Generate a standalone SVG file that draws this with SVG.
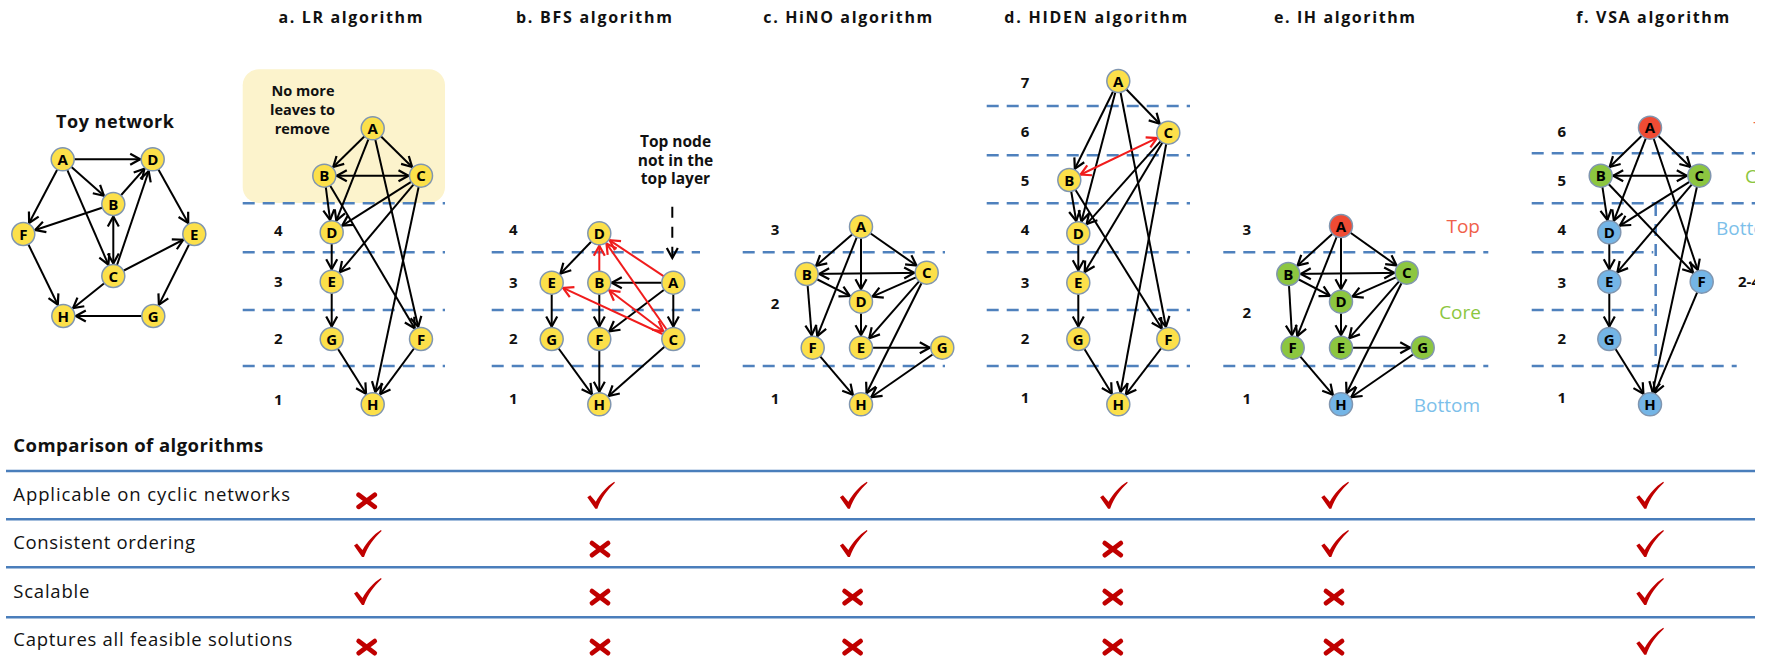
<svg xmlns="http://www.w3.org/2000/svg" width="1768" height="663" viewBox="0 0 1768 663">
<defs>
  <marker id="ah" markerUnits="userSpaceOnUse" markerWidth="40" markerHeight="20" viewBox="-25 -10 40 20" refX="12.5" refY="0" orient="auto-start-reverse">
    <path d="M-10,-5.5 L0,0 L-10,5.5" fill="none" stroke="#000" stroke-width="2.2"/>
  </marker>
  <marker id="ahr" markerUnits="userSpaceOnUse" markerWidth="40" markerHeight="20" viewBox="-25 -10 40 20" refX="12.5" refY="0" orient="auto-start-reverse">
    <path d="M-10,-5.5 L0,0 L-10,5.5" fill="none" stroke="#f01c1c" stroke-width="2.2"/>
  </marker>
  <marker id="ahd" markerUnits="userSpaceOnUse" markerWidth="40" markerHeight="20" viewBox="-25 -10 40 20" refX="0" refY="0" orient="auto">
    <path d="M-10,-5.5 L0,0 L-10,5.5" fill="none" stroke="#000" stroke-width="2.2"/>
  </marker>
  <clipPath id="clip"><rect x="0" y="0" width="1755" height="663"/></clipPath>
  <path id="chk" d="M0,15.5 L3,13.5 L8.5,20 C13,12 19,5 27,0 L27.6,1 C20,8 14,16 10,27 L8,27 Z"/>
</defs>
<style>
  .t { font-family: "Open Sans", "Liberation Sans", sans-serif; font-weight: bold; font-size: 16px; text-anchor: middle; fill: #111; }
  .note { font-family: "Open Sans", "Liberation Sans", sans-serif; font-weight: bold; font-size: 14px; text-anchor: middle; fill: #111; }
  .lab { font-family: "Open Sans", "Liberation Sans", sans-serif; font-weight: bold; font-size: 15px; text-anchor: middle; fill: #111; }
  .n circle { stroke: #8096b0; stroke-width: 1.5; }
  .n text { font-family: "Open Sans", "Liberation Sans", sans-serif; font-weight: bold; font-size: 15px; text-anchor: middle; fill: #000; }
  .y { fill: #fce04a; }
  .r { fill: #ef4b34; }
  .g { fill: #8cc640; }
  .b { fill: #74b5e6; }
  .e { stroke: #000; stroke-width: 2; fill: none; marker-end: url(#ah); }
  .bi { marker-start: url(#ah); }
  .er { stroke: #f01c1c; stroke-width: 2; fill: none; marker-end: url(#ahr); }
  .bir { marker-start: url(#ahr); }
  .dl { stroke: #4f81bd; stroke-width: 2.5; stroke-dasharray: 12 8; fill: none; }
  .row { stroke: #4a7ebb; stroke-width: 2.5; }
  .tx { font-family: "Open Sans", "Liberation Sans", sans-serif; font-size: 18.5px; fill: #111; }
  .tb { font-family: "Open Sans", "Liberation Sans", sans-serif; font-size: 18.5px; font-weight: bold; fill: #111; }
  .ck { fill: #c00000; }
  .x { stroke: #c00000; stroke-width: 4.8; stroke-linecap: round; fill: none; }
  .ct { font-family: "Open Sans", "Liberation Sans", sans-serif; font-size: 19px; }
</style>
<g clip-path="url(#clip)">
<rect x="0" y="0" width="1768" height="663" fill="#fff"/>

<g id="titles">
  <text class="t" x="115" y="128.3" style="font-size:18px" textLength="118">Toy network</text>
  <text class="t" x="350.5" y="22.7" textLength="144">a. LR algorithm</text>
  <text class="t" x="594" y="22.7" textLength="156">b. BFS algorithm</text>
  <text class="t" x="847.8" y="22.7" textLength="169">c. HiNO algorithm</text>
  <text class="t" x="1095.8" y="22.7" textLength="183">d. HIDEN algorithm</text>
  <text class="t" x="1344.5" y="22.7" textLength="141">e. IH algorithm</text>
  <text class="t" x="1652.7" y="22.7" textLength="153">f. VSA algorithm</text>
</g>

<rect id="lr-box" x="242.7" y="69.3" width="202.3" height="133.7" rx="16" fill="#fcf3cc"/>
<g id="lr-note">
  <text class="note" x="303" y="96" style="font-size:14.5px">No more</text>
  <text class="note" x="302.5" y="115" style="font-size:14.5px">leaves to</text>
  <text class="note" x="302.3" y="134.3" style="font-size:14.5px">remove</text>
</g>
<g id="bfs-note">
  <text class="note" x="675.5" y="146.7" style="font-size:15.5px">Top node</text>
  <text class="note" x="675.5" y="165.7" style="font-size:15.5px">not in the</text>
  <text class="note" x="675.5" y="184.3" style="font-size:15.5px">top layer</text>
</g>

<g id="layers">
  <line class="dl" x1="242.7" y1="203.3" x2="445" y2="203.3"/>
  <line class="dl" x1="242.7" y1="252.3" x2="445" y2="252.3"/>
  <line class="dl" x1="242.7" y1="310" x2="445" y2="310"/>
  <line class="dl" x1="242.7" y1="366" x2="445" y2="366"/>

  <line class="dl" x1="491.7" y1="252.3" x2="700" y2="252.3"/>
  <line class="dl" x1="491.7" y1="310" x2="700" y2="310"/>
  <line class="dl" x1="491.7" y1="366" x2="700" y2="366"/>

  <line class="dl" x1="742.7" y1="252.3" x2="945" y2="252.3"/>
  <line class="dl" x1="742.7" y1="366" x2="945" y2="366"/>

  <line class="dl" x1="986.7" y1="106" x2="1190" y2="106"/>
  <line class="dl" x1="986.7" y1="155.3" x2="1190" y2="155.3"/>
  <line class="dl" x1="986.7" y1="203.3" x2="1190" y2="203.3"/>
  <line class="dl" x1="986.7" y1="252.3" x2="1190" y2="252.3"/>
  <line class="dl" x1="986.7" y1="310" x2="1190" y2="310"/>
  <line class="dl" x1="986.7" y1="366" x2="1190" y2="366"/>

  <line class="dl" x1="1223.3" y1="252.3" x2="1488.3" y2="252.3"/>
  <line class="dl" x1="1223.3" y1="366" x2="1488.3" y2="366"/>

  <line class="dl" x1="1531.7" y1="153.3" x2="1768" y2="153.3"/>
  <line class="dl" x1="1531.7" y1="203.3" x2="1768" y2="203.3"/>
  <line class="dl" x1="1531.7" y1="252.3" x2="1653.3" y2="252.3"/>
  <line class="dl" x1="1531.7" y1="310" x2="1653.3" y2="310"/>
  <line class="dl" x1="1531.7" y1="366" x2="1736.7" y2="366"/>
  <line class="dl" x1="1655.7" y1="204" x2="1655.7" y2="366"/>
</g>

<g id="layer-numbers">
  <text class="lab" x="278.3" y="236.3">4</text>
  <text class="lab" x="278.3" y="287">3</text>
  <text class="lab" x="278.3" y="344.3">2</text>
  <text class="lab" x="278.3" y="405">1</text>

  <text class="lab" x="513.3" y="235.3">4</text>
  <text class="lab" x="513.3" y="288">3</text>
  <text class="lab" x="513.3" y="344.3">2</text>
  <text class="lab" x="513.3" y="404.3">1</text>

  <text class="lab" x="775" y="235.3">3</text>
  <text class="lab" x="775" y="309">2</text>
  <text class="lab" x="775" y="403.6">1</text>

  <text class="lab" x="1025" y="88.3">7</text>
  <text class="lab" x="1025" y="137.3">6</text>
  <text class="lab" x="1025" y="186.3">5</text>
  <text class="lab" x="1025" y="235.3">4</text>
  <text class="lab" x="1025" y="288.3">3</text>
  <text class="lab" x="1025" y="344.3">2</text>
  <text class="lab" x="1025" y="403.3">1</text>

  <text class="lab" x="1246.7" y="235.3">3</text>
  <text class="lab" x="1246.7" y="318.3">2</text>
  <text class="lab" x="1246.7" y="404.3">1</text>

  <text class="lab" x="1561.7" y="137.3">6</text>
  <text class="lab" x="1561.7" y="186.3">5</text>
  <text class="lab" x="1561.7" y="235.3">4</text>
  <text class="lab" x="1561.7" y="288.3">3</text>
  <text class="lab" x="1561.7" y="344.3">2</text>
  <text class="lab" x="1561.7" y="403.3">1</text>
  <text class="lab" x="1738" y="287" style="text-anchor:start">2-4</text>
</g>

<g id="class-labels">
  <text class="ct" x="1480" y="233.3" fill="#f0604a" text-anchor="end">Top</text>
  <text class="ct" x="1481" y="318.5" fill="#8cc63f" text-anchor="end">Core</text>
  <text class="ct" x="1480" y="411.7" fill="#7cbfea" text-anchor="end">Bottom</text>
  <text class="ct" x="1753.5" y="134.5" fill="#f0604a">Top</text>
  <text class="ct" x="1745" y="183.3" fill="#8cc63f">Core</text>
  <text class="ct" x="1716" y="235" fill="#7cbfea">Bottom</text>
</g>

<g id="connectors">
  <g id="toy-edges">
    <line class="e" x1="62.7" y1="159.3" x2="152.7" y2="159.3"/>
    <line class="e" x1="62.7" y1="159.3" x2="113.3" y2="204"/>
    <line class="e" x1="62.7" y1="159.3" x2="23.3" y2="234"/>
    <line class="e" x1="62.7" y1="159.3" x2="113.3" y2="276"/>
    <line class="e" x1="113.3" y1="204" x2="152.7" y2="159.3"/>
    <line class="e" x1="113.3" y1="204" x2="23.3" y2="234"/>
    <line class="e bi" x1="113.3" y1="204" x2="113.3" y2="276"/>
    <line class="e" x1="113.3" y1="276" x2="152.7" y2="159.3"/>
    <line class="e" x1="113.3" y1="276" x2="194.3" y2="234"/>
    <line class="e" x1="113.3" y1="276" x2="63.3" y2="316"/>
    <line class="e" x1="152.7" y1="159.3" x2="194.3" y2="234"/>
    <line class="e" x1="194.3" y1="234" x2="153.3" y2="316"/>
    <line class="e" x1="153.3" y1="316" x2="63.3" y2="316"/>
    <line class="e" x1="23.3" y1="234" x2="63.3" y2="316"/>
  </g>
  <g id="lr-edges">
    <line class="e" x1="372.7" y1="128.3" x2="324.3" y2="175.7"/>
    <line class="e" x1="372.7" y1="128.3" x2="421" y2="175.7"/>
    <line class="e" x1="372.7" y1="128.3" x2="331.7" y2="232.3"/>
    <line class="e" x1="372.7" y1="128.3" x2="421" y2="339"/>
    <line class="e bi" x1="324.3" y1="175.7" x2="421" y2="175.7"/>
    <line class="e" x1="324.3" y1="175.7" x2="331.7" y2="232.3"/>
    <line class="e" x1="324.3" y1="175.7" x2="421" y2="339"/>
    <line class="e" x1="421" y1="175.7" x2="331.7" y2="232.3"/>
    <line class="e" x1="421" y1="175.7" x2="331.7" y2="281.7"/>
    <line class="e" x1="421" y1="175.7" x2="372.7" y2="404.3"/>
    <line class="e" x1="331.7" y1="232.3" x2="331.7" y2="281.7"/>
    <line class="e" x1="331.7" y1="281.7" x2="331.7" y2="339"/>
    <line class="e" x1="331.7" y1="339" x2="372.7" y2="404.3"/>
    <line class="e" x1="421" y1="339" x2="372.7" y2="404.3"/>
  </g>
  <g id="bfs-edges">
    <line class="e" x1="599.3" y1="233.3" x2="551.7" y2="282.7"/>
    <line class="e" x1="673.3" y1="282.7" x2="599.3" y2="282.7"/>
    <line class="e" x1="673.3" y1="282.7" x2="599.3" y2="339"/>
    <line class="e" x1="673.3" y1="282.7" x2="673.3" y2="339"/>
    <line class="e" x1="551.7" y1="282.7" x2="551.7" y2="339"/>
    <line class="e" x1="599.3" y1="282.7" x2="599.3" y2="339"/>
    <line class="e" x1="551.7" y1="339" x2="599.3" y2="404.3"/>
    <line class="e" x1="599.3" y1="339" x2="599.3" y2="404.3"/>
    <line class="e" x1="673.3" y1="339" x2="599.3" y2="404.3"/>
    <line class="er" x1="599.3" y1="282.7" x2="599.3" y2="233.3"/>
    <line class="er" x1="673.3" y1="282.7" x2="599.3" y2="233.3"/>
    <line class="er" x1="673.3" y1="339" x2="599.3" y2="233.3"/>
    <line class="er" x1="673.3" y1="339" x2="551.7" y2="282.7"/>
    <line class="er bir" x1="599.3" y1="282.7" x2="673.3" y2="339"/>
    <line stroke="#000" stroke-width="2" stroke-dasharray="11 9" marker-end="url(#ahd)" x1="672.3" y1="206.7" x2="672.3" y2="258"/>
  </g>
  <g id="hino-edges">
    <line class="e" x1="861" y1="226.7" x2="806.7" y2="274"/>
    <line class="e" x1="861" y1="226.7" x2="926.7" y2="272.7"/>
    <line class="e" x1="861" y1="226.7" x2="861" y2="301.7"/>
    <line class="e" x1="861" y1="226.7" x2="812.7" y2="347.7"/>
    <line class="e bi" x1="806.7" y1="274" x2="926.7" y2="272.7"/>
    <line class="e" x1="806.7" y1="274" x2="861" y2="301.7"/>
    <line class="e" x1="806.7" y1="274" x2="812.7" y2="347.7"/>
    <line class="e" x1="926.7" y1="272.7" x2="861" y2="301.7"/>
    <line class="e" x1="926.7" y1="272.7" x2="861" y2="347.7"/>
    <line class="e" x1="926.7" y1="272.7" x2="861" y2="404.3"/>
    <line class="e" x1="861" y1="301.7" x2="861" y2="347.7"/>
    <line class="e" x1="861" y1="347.7" x2="942.3" y2="347.7"/>
    <line class="e" x1="812.7" y1="347.7" x2="861" y2="404.3"/>
    <line class="e" x1="942.3" y1="347.7" x2="861" y2="404.3"/>
  </g>
  <g id="hiden-edges">
    <line class="e" x1="1118.3" y1="81" x2="1168.3" y2="132.7"/>
    <line class="e" x1="1118.3" y1="81" x2="1069.3" y2="180"/>
    <line class="e" x1="1118.3" y1="81" x2="1078.3" y2="233.3"/>
    <line class="e" x1="1118.3" y1="81" x2="1168.3" y2="339"/>
    <line class="er bir" x1="1069.3" y1="180" x2="1168.3" y2="132.7"/>
    <line class="e" x1="1069.3" y1="180" x2="1078.3" y2="233.3"/>
    <line class="e" x1="1069.3" y1="180" x2="1168.3" y2="339"/>
    <line class="e" x1="1168.3" y1="132.7" x2="1078.3" y2="233.3"/>
    <line class="e" x1="1168.3" y1="132.7" x2="1078.3" y2="282.7"/>
    <line class="e" x1="1168.3" y1="132.7" x2="1118.3" y2="404.3"/>
    <line class="e" x1="1078.3" y1="233.3" x2="1078.3" y2="282.7"/>
    <line class="e" x1="1078.3" y1="282.7" x2="1078.3" y2="339"/>
    <line class="e" x1="1078.3" y1="339" x2="1118.3" y2="404.3"/>
    <line class="e" x1="1168.3" y1="339" x2="1118.3" y2="404.3"/>
  </g>
  <g id="ih-edges">
    <line class="e" x1="1341" y1="226" x2="1288.3" y2="274"/>
    <line class="e" x1="1341" y1="226" x2="1406.7" y2="272.7"/>
    <line class="e" x1="1341" y1="226" x2="1341" y2="301.7"/>
    <line class="e" x1="1341" y1="226" x2="1292.7" y2="347.7"/>
    <line class="e bi" x1="1288.3" y1="274" x2="1406.7" y2="272.7"/>
    <line class="e" x1="1288.3" y1="274" x2="1341" y2="301.7"/>
    <line class="e" x1="1288.3" y1="274" x2="1292.7" y2="347.7"/>
    <line class="e" x1="1406.7" y1="272.7" x2="1341" y2="301.7"/>
    <line class="e" x1="1406.7" y1="272.7" x2="1341" y2="347.7"/>
    <line class="e" x1="1406.7" y1="272.7" x2="1341" y2="404.3"/>
    <line class="e" x1="1341" y1="301.7" x2="1341" y2="347.7"/>
    <line class="e" x1="1341" y1="347.7" x2="1422.7" y2="347.7"/>
    <line class="e" x1="1292.7" y1="347.7" x2="1341" y2="404.3"/>
    <line class="e" x1="1422.7" y1="347.7" x2="1341" y2="404.3"/>
  </g>
  <g id="vsa-edges">
    <line class="e" x1="1650" y1="127.7" x2="1600.7" y2="175.7"/>
    <line class="e" x1="1650" y1="127.7" x2="1699.3" y2="175.7"/>
    <line class="e" x1="1650" y1="127.7" x2="1609.3" y2="232.3"/>
    <line class="e" x1="1650" y1="127.7" x2="1701.7" y2="281.7"/>
    <line class="e bi" x1="1600.7" y1="175.7" x2="1699.3" y2="175.7"/>
    <line class="e" x1="1600.7" y1="175.7" x2="1609.3" y2="232.3"/>
    <line class="e" x1="1600.7" y1="175.7" x2="1701.7" y2="281.7"/>
    <line class="e" x1="1699.3" y1="175.7" x2="1609.3" y2="232.3"/>
    <line class="e" x1="1699.3" y1="175.7" x2="1609.3" y2="281.7"/>
    <line class="e" x1="1699.3" y1="175.7" x2="1650" y2="404.3"/>
    <line class="e" x1="1609.3" y1="232.3" x2="1609.3" y2="281.7"/>
    <line class="e" x1="1609.3" y1="281.7" x2="1609.3" y2="339"/>
    <line class="e" x1="1609.3" y1="339" x2="1650" y2="404.3"/>
    <line class="e" x1="1701.7" y1="281.7" x2="1650" y2="404.3"/>
  </g>
</g>

<g id="nodes">
  <g id="toy-A" class="n"><circle class="y" cx="62.7" cy="159.3" r="11.5"/><text x="62.7" y="164.8">A</text></g>
  <g id="toy-B" class="n"><circle class="y" cx="113.3" cy="204" r="11.5"/><text x="113.3" y="209.5">B</text></g>
  <g id="toy-C" class="n"><circle class="y" cx="113.3" cy="276" r="11.5"/><text x="113.3" y="281.5">C</text></g>
  <g id="toy-D" class="n"><circle class="y" cx="152.7" cy="159.3" r="11.5"/><text x="152.7" y="164.8">D</text></g>
  <g id="toy-E" class="n"><circle class="y" cx="194.3" cy="234" r="11.5"/><text x="194.3" y="239.5">E</text></g>
  <g id="toy-F" class="n"><circle class="y" cx="23.3" cy="234" r="11.5"/><text x="23.3" y="239.5">F</text></g>
  <g id="toy-G" class="n"><circle class="y" cx="153.3" cy="316" r="11.5"/><text x="153.3" y="321.5">G</text></g>
  <g id="toy-H" class="n"><circle class="y" cx="63.3" cy="316" r="11.5"/><text x="63.3" y="321.5">H</text></g>

  <g id="lr-A" class="n"><circle class="y" cx="372.7" cy="128.3" r="11.5"/><text x="372.7" y="133.8">A</text></g>
  <g id="lr-B" class="n"><circle class="y" cx="324.3" cy="175.7" r="11.5"/><text x="324.3" y="181.2">B</text></g>
  <g id="lr-C" class="n"><circle class="y" cx="421" cy="175.7" r="11.5"/><text x="421" y="181.2">C</text></g>
  <g id="lr-D" class="n"><circle class="y" cx="331.7" cy="232.3" r="11.5"/><text x="331.7" y="237.8">D</text></g>
  <g id="lr-E" class="n"><circle class="y" cx="331.7" cy="281.7" r="11.5"/><text x="331.7" y="287.2">E</text></g>
  <g id="lr-G" class="n"><circle class="y" cx="331.7" cy="339" r="11.5"/><text x="331.7" y="344.5">G</text></g>
  <g id="lr-F" class="n"><circle class="y" cx="421" cy="339" r="11.5"/><text x="421" y="344.5">F</text></g>
  <g id="lr-H" class="n"><circle class="y" cx="372.7" cy="404.3" r="11.5"/><text x="372.7" y="409.8">H</text></g>

  <g id="bfs-D" class="n"><circle class="y" cx="599.3" cy="233.3" r="11.5"/><text x="599.3" y="238.8">D</text></g>
  <g id="bfs-E" class="n"><circle class="y" cx="551.7" cy="282.7" r="11.5"/><text x="551.7" y="288.2">E</text></g>
  <g id="bfs-B" class="n"><circle class="y" cx="599.3" cy="282.7" r="11.5"/><text x="599.3" y="288.2">B</text></g>
  <g id="bfs-A" class="n"><circle class="y" cx="673.3" cy="282.7" r="11.5"/><text x="673.3" y="288.2">A</text></g>
  <g id="bfs-G" class="n"><circle class="y" cx="551.7" cy="339" r="11.5"/><text x="551.7" y="344.5">G</text></g>
  <g id="bfs-F" class="n"><circle class="y" cx="599.3" cy="339" r="11.5"/><text x="599.3" y="344.5">F</text></g>
  <g id="bfs-C" class="n"><circle class="y" cx="673.3" cy="339" r="11.5"/><text x="673.3" y="344.5">C</text></g>
  <g id="bfs-H" class="n"><circle class="y" cx="599.3" cy="404.3" r="11.5"/><text x="599.3" y="409.8">H</text></g>

  <g id="hino-A" class="n"><circle class="y" cx="861" cy="226.7" r="11.5"/><text x="861" y="232.2">A</text></g>
  <g id="hino-B" class="n"><circle class="y" cx="806.7" cy="274" r="11.5"/><text x="806.7" y="279.5">B</text></g>
  <g id="hino-C" class="n"><circle class="y" cx="926.7" cy="272.7" r="11.5"/><text x="926.7" y="278.2">C</text></g>
  <g id="hino-D" class="n"><circle class="y" cx="861" cy="301.7" r="11.5"/><text x="861" y="307.2">D</text></g>
  <g id="hino-F" class="n"><circle class="y" cx="812.7" cy="347.7" r="11.5"/><text x="812.7" y="353.2">F</text></g>
  <g id="hino-E" class="n"><circle class="y" cx="861" cy="347.7" r="11.5"/><text x="861" y="353.2">E</text></g>
  <g id="hino-G" class="n"><circle class="y" cx="942.3" cy="347.7" r="11.5"/><text x="942.3" y="353.2">G</text></g>
  <g id="hino-H" class="n"><circle class="y" cx="861" cy="404.3" r="11.5"/><text x="861" y="409.8">H</text></g>

  <g id="hiden-A" class="n"><circle class="y" cx="1118.3" cy="81" r="11.5"/><text x="1118.3" y="86.5">A</text></g>
  <g id="hiden-C" class="n"><circle class="y" cx="1168.3" cy="132.7" r="11.5"/><text x="1168.3" y="138.2">C</text></g>
  <g id="hiden-B" class="n"><circle class="y" cx="1069.3" cy="180" r="11.5"/><text x="1069.3" y="185.5">B</text></g>
  <g id="hiden-D" class="n"><circle class="y" cx="1078.3" cy="233.3" r="11.5"/><text x="1078.3" y="238.8">D</text></g>
  <g id="hiden-E" class="n"><circle class="y" cx="1078.3" cy="282.7" r="11.5"/><text x="1078.3" y="288.2">E</text></g>
  <g id="hiden-G" class="n"><circle class="y" cx="1078.3" cy="339" r="11.5"/><text x="1078.3" y="344.5">G</text></g>
  <g id="hiden-F" class="n"><circle class="y" cx="1168.3" cy="339" r="11.5"/><text x="1168.3" y="344.5">F</text></g>
  <g id="hiden-H" class="n"><circle class="y" cx="1118.3" cy="404.3" r="11.5"/><text x="1118.3" y="409.8">H</text></g>

  <g id="ih-A" class="n"><circle class="r" cx="1341" cy="226" r="11.5"/><text x="1341" y="231.5">A</text></g>
  <g id="ih-B" class="n"><circle class="g" cx="1288.3" cy="274" r="11.5"/><text x="1288.3" y="279.5">B</text></g>
  <g id="ih-C" class="n"><circle class="g" cx="1406.7" cy="272.7" r="11.5"/><text x="1406.7" y="278.2">C</text></g>
  <g id="ih-D" class="n"><circle class="g" cx="1341" cy="301.7" r="11.5"/><text x="1341" y="307.2">D</text></g>
  <g id="ih-F" class="n"><circle class="g" cx="1292.7" cy="347.7" r="11.5"/><text x="1292.7" y="353.2">F</text></g>
  <g id="ih-E" class="n"><circle class="g" cx="1341" cy="347.7" r="11.5"/><text x="1341" y="353.2">E</text></g>
  <g id="ih-G" class="n"><circle class="g" cx="1422.7" cy="347.7" r="11.5"/><text x="1422.7" y="353.2">G</text></g>
  <g id="ih-H" class="n"><circle class="b" cx="1341" cy="404.3" r="11.5"/><text x="1341" y="409.8">H</text></g>

  <g id="vsa-A" class="n"><circle class="r" cx="1650" cy="127.7" r="11.5"/><text x="1650" y="133.2">A</text></g>
  <g id="vsa-B" class="n"><circle class="g" cx="1600.7" cy="175.7" r="11.5"/><text x="1600.7" y="181.2">B</text></g>
  <g id="vsa-C" class="n"><circle class="g" cx="1699.3" cy="175.7" r="11.5"/><text x="1699.3" y="181.2">C</text></g>
  <g id="vsa-D" class="n"><circle class="b" cx="1609.3" cy="232.3" r="11.5"/><text x="1609.3" y="237.8">D</text></g>
  <g id="vsa-E" class="n"><circle class="b" cx="1609.3" cy="281.7" r="11.5"/><text x="1609.3" y="287.2">E</text></g>
  <g id="vsa-G" class="n"><circle class="b" cx="1609.3" cy="339" r="11.5"/><text x="1609.3" y="344.5">G</text></g>
  <g id="vsa-F" class="n"><circle class="b" cx="1701.7" cy="281.7" r="11.5"/><text x="1701.7" y="287.2">F</text></g>
  <g id="vsa-H" class="n"><circle class="b" cx="1650" cy="404.3" r="11.5"/><text x="1650" y="409.8">H</text></g>
</g>

<g id="table">
  <text class="tb" x="13.3" y="451.7" textLength="250">Comparison of algorithms</text>
  <line class="row" x1="6" y1="471" x2="1755" y2="471"/>
  <line class="row" x1="6" y1="519.3" x2="1755" y2="519.3"/>
  <line class="row" x1="6" y1="567.3" x2="1755" y2="567.3"/>
  <line class="row" x1="6" y1="617.3" x2="1755" y2="617.3"/>
  <text class="tx" x="13.3" y="500.7" textLength="276.7">Applicable on cyclic networks</text>
  <text class="tx" x="13.3" y="549" textLength="181.7">Consistent ordering</text>
  <text class="tx" x="13.3" y="597.7" textLength="76">Scalable</text>
  <text class="tx" x="13.3" y="646" textLength="279">Captures all feasible solutions</text>

  <path class="x" d="M358.7,494.8 L374.7,506.8 M374.7,494.8 L358.7,506.8"/>
  <use href="#chk" class="ck" x="587.3" y="481.7"/>
  <use href="#chk" class="ck" x="839.9" y="481.7"/>
  <use href="#chk" class="ck" x="1100.1" y="481.7"/>
  <use href="#chk" class="ck" x="1321.3" y="481.7"/>
  <use href="#chk" class="ck" x="1636.3" y="481.7"/>

  <use href="#chk" class="ck" x="354" y="530"/>
  <path class="x" d="M592,543.1 L608,555.1 M608,543.1 L592,555.1"/>
  <use href="#chk" class="ck" x="839.9" y="530"/>
  <path class="x" d="M1104.8,543.1 L1120.8,555.1 M1120.8,543.1 L1104.8,555.1"/>
  <use href="#chk" class="ck" x="1321.3" y="530"/>
  <use href="#chk" class="ck" x="1636.3" y="530"/>

  <use href="#chk" class="ck" x="354" y="578"/>
  <path class="x" d="M592,591.1 L608,603.1 M608,591.1 L592,603.1"/>
  <path class="x" d="M844.6,591.1 L860.6,603.1 M860.6,591.1 L844.6,603.1"/>
  <path class="x" d="M1104.8,591.1 L1120.8,603.1 M1120.8,591.1 L1104.8,603.1"/>
  <path class="x" d="M1326,591.1 L1342,603.1 M1342,591.1 L1326,603.1"/>
  <use href="#chk" class="ck" x="1636.3" y="578"/>

  <path class="x" d="M358.7,641.1 L374.7,653.1 M374.7,641.1 L358.7,653.1"/>
  <path class="x" d="M592,641.1 L608,653.1 M608,641.1 L592,653.1"/>
  <path class="x" d="M844.6,641.1 L860.6,653.1 M860.6,641.1 L844.6,653.1"/>
  <path class="x" d="M1104.8,641.1 L1120.8,653.1 M1120.8,641.1 L1104.8,653.1"/>
  <path class="x" d="M1326,641.1 L1342,653.1 M1342,641.1 L1326,653.1"/>
  <use href="#chk" class="ck" x="1636.3" y="627.7"/>
</g>
</g>
</svg>
